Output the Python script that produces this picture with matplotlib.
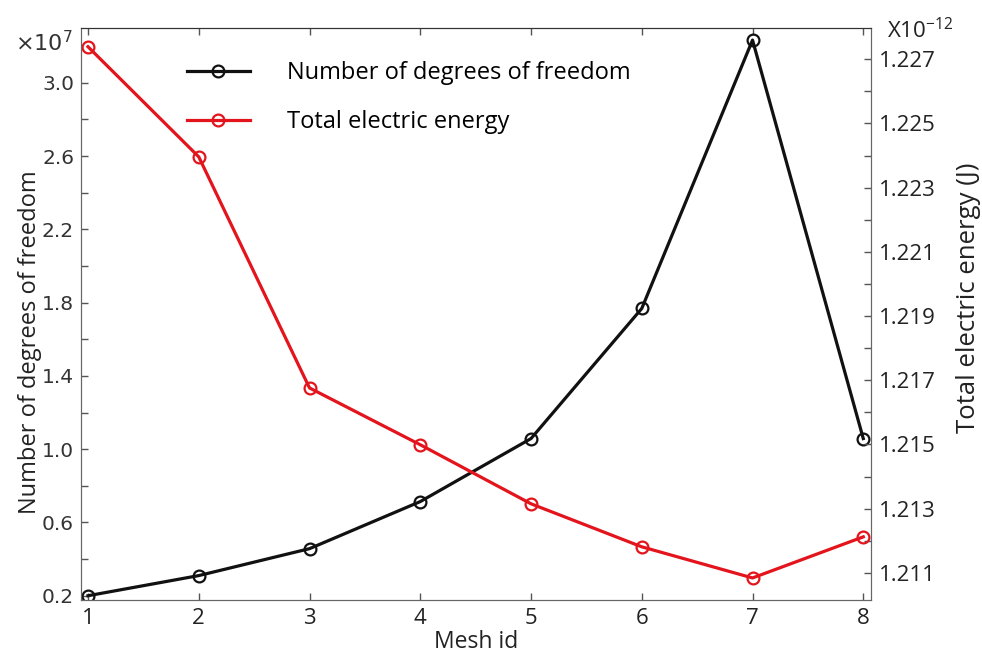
import numpy as np
import matplotlib.pyplot as plt
from matplotlib.ticker import FixedLocator, FormatStrFormatter

# 数据
mesh_id = [1, 2, 3, 4, 5, 6, 7, 8]
dof_e7 = [0.20, 0.31, 0.457, 0.714, 1.058, 1.768, 3.233, 1.058]          # x10^7
energy_e12 = [1.22739, 1.22396, 1.21676, 1.21499, 1.21315, 1.21181, 1.21084, 1.21212]  # x10^-12 J

left_major = [0.2, 0.6, 1.0, 1.4, 1.8, 2.2, 2.6, 3.0]
left_minor = [0.4, 0.8, 1.2, 1.6, 2.0, 2.4, 2.8]
right_major = [1.211, 1.213, 1.215, 1.217, 1.219, 1.221, 1.223, 1.225, 1.227]
right_minor = [1.212, 1.214, 1.216, 1.218, 1.220, 1.222, 1.224, 1.226]

RED = '#e3141c'
BLACK = '#111111'

plt.rcParams['font.family'] = ['Open Sans', 'DejaVu Sans']

fig = plt.figure(figsize=(9.82, 6.62), dpi=100)
ax = fig.add_axes([0.0825, 0.094, 0.8045, 0.864])
ax2 = ax.twinx()

l1, = ax.plot(mesh_id, dof_e7, '-o', color=BLACK, lw=2.3, ms=8.5, mfc='none',
              mew=1.6, label='Number of degrees of freedom')
l2, = ax2.plot(mesh_id, energy_e12, '-o', color=RED, lw=2.3, ms=8.5, mfc='none',
               mew=1.6, label='Total electric energy')

ax.set_xlim(0.937, 8.07)
ax.set_ylim(0.178, 3.30)
ax2.set_ylim(1.21016, 1.22798)

ax.set_xticks(mesh_id)
ax.yaxis.set_major_locator(FixedLocator(left_major))
ax.yaxis.set_minor_locator(FixedLocator(left_minor))
ax.yaxis.set_major_formatter(FormatStrFormatter('%.1f'))
ax2.yaxis.set_major_locator(FixedLocator(right_major))
ax2.yaxis.set_minor_locator(FixedLocator(right_minor))
ax2.yaxis.set_major_formatter(FormatStrFormatter('%.3f'))

ax.tick_params(axis='x', direction='in', top=True, length=5, width=1, pad=6,
               labelsize=16, colors='#555555', labelcolor='#222222')
ax.tick_params(axis='y', which='both', direction='in', length=5, width=1, pad=5,
               colors='#555555', labelcolor='#333333')
ax.tick_params(axis='y', which='major', labelsize=14.5)
for lab in ax.get_yticklabels():
    lab.set_family('DejaVu Sans')
ax2.tick_params(axis='y', which='both', direction='in', length=5, width=1, pad=6,
                colors='#555555', labelcolor='#222222')
ax2.tick_params(axis='y', which='major', labelsize=16)

for a in (ax, ax2):
    for side in ('left', 'right', 'bottom'):
        a.spines[side].set_color('#666666')
    a.spines['top'].set_color('#333333')

ax.set_xlabel('Mesh id', fontsize=16.5, color='#222222', labelpad=1)
ax.set_ylabel('Number of degrees of freedom', fontsize=17, color='#222222')
ax.yaxis.set_label_coords(-0.049, 0.451)
ax2.set_ylabel('Total electric energy (J)', fontsize=18.5, color='#222222')
ax2.yaxis.set_label_coords(1.107, 0.528)

fig.text(0.015, 0.922, r'$\times$10$^{7}$', fontsize=16, color='#333333',
         family='DejaVu Sans', va='baseline')
fig.text(0.903, 0.942, r'X10$^{\mathregular{-12}}$', fontsize=16, color='#222222',
         va='baseline')

fig.legend(handles=[l1, l2], loc='upper left', bbox_to_anchor=(0.178, 0.926),
           frameon=False, fontsize=17, handlelength=2.7, handletextpad=1.55,
           labelspacing=1.08, borderpad=0)

fig.savefig('out.png', dpi=100)
